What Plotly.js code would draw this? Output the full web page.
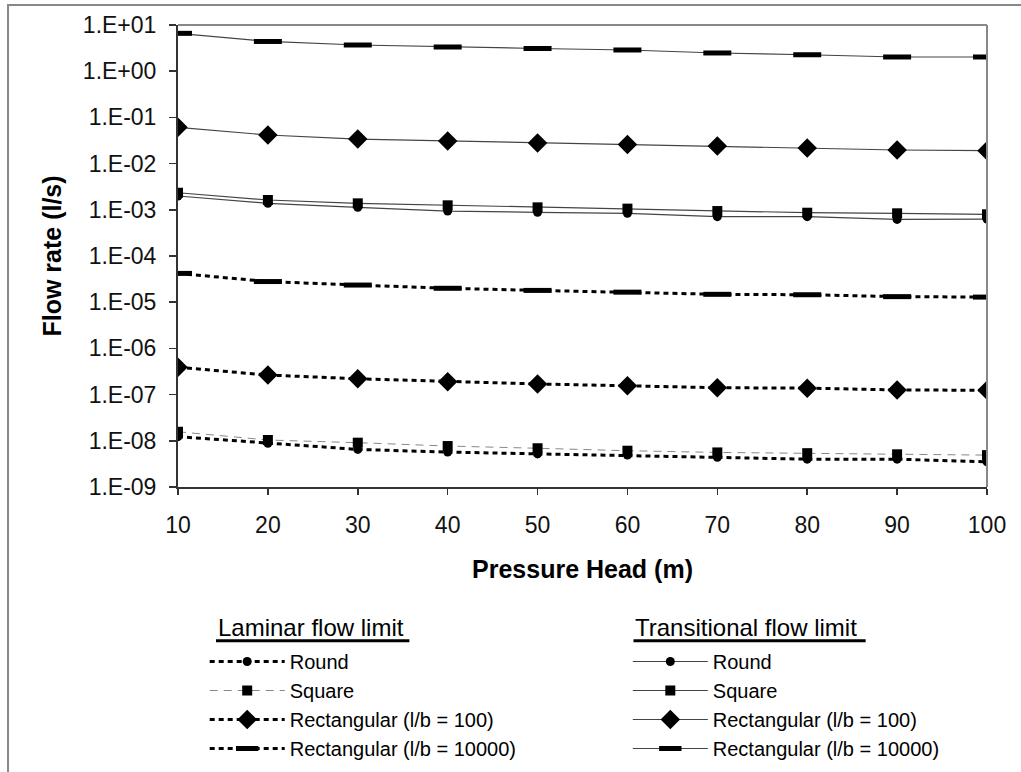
<!DOCTYPE html>
<html>
<head>
<meta charset="utf-8">
<script src="https://cdn.plot.ly/plotly-3.0.1.min.js"></script>
<style>
  html, body { margin: 0; padding: 0; background: #fff; }
  #chart { width: 1021px; height: 772px; }
</style>
</head>
<body>
<div id="chart"></div>
<script>
// ---- Data ----
const pressureHead = [10, 20, 30, 40, 50, 60, 70, 80, 90, 100];

const laminarRound      = [1.23e-8, 8.8e-9, 6.5e-9, 5.7e-9, 5.2e-9, 4.9e-9, 4.4e-9, 4.0e-9, 4.0e-9, 3.5e-9];
const laminarSquare     = [1.57e-8, 1.04e-8, 9.1e-9, 7.7e-9, 6.9e-9, 6.1e-9, 5.6e-9, 5.4e-9, 5.1e-9, 4.9e-9];
const laminarRect100    = [3.9e-7, 2.65e-7, 2.2e-7, 1.9e-7, 1.7e-7, 1.55e-7, 1.41e-7, 1.38e-7, 1.26e-7, 1.24e-7];
const laminarRect10000  = [4.2e-5, 2.8e-5, 2.35e-5, 2.0e-5, 1.8e-5, 1.65e-5, 1.48e-5, 1.45e-5, 1.32e-5, 1.29e-5];

const transRound        = [1.99e-3, 1.38e-3, 1.13e-3, 9.4e-4, 8.8e-4, 8.4e-4, 7.1e-4, 7.1e-4, 6.2e-4, 6.3e-4];
const transSquare       = [2.34e-3, 1.63e-3, 1.38e-3, 1.25e-3, 1.13e-3, 1.06e-3, 9.4e-4, 8.65e-4, 8.4e-4, 8.0e-4];
const transRect100      = [0.061, 0.0416, 0.034, 0.031, 0.028, 0.026, 0.024, 0.0218, 0.0197, 0.019];
const transRect10000    = [6.6, 4.4, 3.69, 3.34, 3.1, 2.88, 2.48, 2.27, 2.03, 2.03];

const seriesNames = ['Round', 'Square', 'Rectangular (l/b = 100)', 'Rectangular (l/b = 10000)'];
const groupTitles = ['Laminar flow limit', 'Transitional flow limit'];

const yTickValues = [1e-9, 1e-8, 1e-7, 1e-6, 1e-5, 1e-4, 1e-3, 1e-2, 1e-1, 1e0, 1e1];
const yTickLabels = ['1.E-09', '1.E-08', '1.E-07', '1.E-06', '1.E-05', '1.E-04', '1.E-03', '1.E-02', '1.E-01', '1.E+00', '1.E+01'];
const xTickValues = [10, 20, 30, 40, 50, 60, 70, 80, 90, 100];

const xTitle = 'Pressure Head (m)';
const yTitle = 'Flow rate (l/s)';

// ---- Styles ----
const dotLine = {color: '#000', width: 3, dash: '5px,4px'};
const grayDash = {color: '#888', width: 1, dash: '8px,6px'};
const solidLine = {color: '#444', width: 1.2};

const markerCircle = {symbol: 'circle', size: 9, color: '#000'};
const markerSquare = {symbol: 'square', size: 10, color: '#000'};
const markerDiamond = {symbol: 'diamond', size: 15, color: '#000'};
const markerDash = {symbol: 'line-ew', size: 20, color: '#000', line: {color: '#000', width: 5}};

function tr(y, name, line, marker, legend) {
  return {x: pressureHead, y: y, name: name, type: 'scatter', mode: 'lines+markers',
          line: line, marker: marker, legend: legend};
}

const traces = [
  tr(laminarRound, seriesNames[0], dotLine, markerCircle, 'legend'),
  tr(laminarSquare, seriesNames[1], grayDash, markerSquare, 'legend'),
  tr(laminarRect100, seriesNames[2], dotLine, markerDiamond, 'legend'),
  tr(laminarRect10000, seriesNames[3], dotLine, markerDash, 'legend'),
  tr(transRound, seriesNames[0], solidLine, markerCircle, 'legend2'),
  tr(transSquare, seriesNames[1], solidLine, markerSquare, 'legend2'),
  tr(transRect100, seriesNames[2], solidLine, markerDiamond, 'legend2'),
  tr(transRect10000, seriesNames[3], solidLine, markerDash, 'legend2')
];

const FONT = '"Liberation Sans", Arial, sans-serif';
const legendCommon = {
  orientation: 'v', xanchor: 'left', yanchor: 'top',
  font: {family: FONT, size: 20, color: '#000'},
  bgcolor: 'rgba(0,0,0,0)', itemwidth: 75, tracegroupgap: 0,
  traceorder: 'normal'
};

const layout = {
  width: 1021, height: 772,
  margin: {l: 178, r: 34, t: 25, b: 285, autoexpand: false},
  paper_bgcolor: '#fff', plot_bgcolor: '#fff',
  font: {family: FONT, color: '#000'},
  showlegend: true,
  xaxis: {
    type: 'linear', range: [10, 100], tickvals: xTickValues,
    showgrid: false, zeroline: false, automargin: false,
    showline: true, linecolor: '#333', linewidth: 2,
    ticks: 'outside', ticklen: 6, tickwidth: 1.5, tickcolor: '#333',
    ticklabelstandoff: 10,
    tickfont: {family: FONT, size: 23, color: '#111'},
    title: {text: '<b>' + xTitle + '</b>', font: {family: FONT, size: 25, color: '#000'}, standoff: 24}
  },
  yaxis: {
    type: 'log', range: [-9, 1], tickvals: yTickValues, ticktext: yTickLabels,
    showgrid: false, zeroline: false, automargin: false,
    showline: true, linecolor: '#333', linewidth: 2,
    ticks: 'outside', ticklen: 7, tickwidth: 1.5, tickcolor: '#333',
    ticklabelstandoff: 8,
    tickfont: {family: FONT, size: 23, color: '#111'},
    title: {text: '<b>' + yTitle + '</b>', font: {family: FONT, size: 25, color: '#000'}, standoff: 14}
  },
  legend: Object.assign({}, legendCommon, {x: 0.033, y: -0.3355}),
  legend2: Object.assign({}, legendCommon, {x: 0.556, y: -0.3355}),
  annotations: [
    {xref: 'paper', yref: 'paper', x: 0.047, y: -0.305, xanchor: 'left', yanchor: 'middle',
     text: groupTitles[0], showarrow: false, font: {family: FONT, size: 24, color: '#000'}},
    {xref: 'paper', yref: 'paper', x: 0.563, y: -0.305, xanchor: 'left', yanchor: 'middle',
     text: groupTitles[1], showarrow: false, font: {family: FONT, size: 24, color: '#000'}}
  ],
  shapes: [
    // plot frame top & right (gray)
    {type: 'line', xref: 'paper', yref: 'paper', x0: 0, x1: 1, y0: 1, y1: 1, line: {color: '#888', width: 2}},
    {type: 'line', xref: 'paper', yref: 'paper', x0: 1, x1: 1, y0: 0, y1: 1, line: {color: '#888', width: 2}},
    // outer chart border (right and bottom edges lie beyond the canvas, as in the reference)
    {type: 'rect', xref: 'paper', yref: 'paper', x0: -0.2101, x1: 1.1, y0: -0.72, y1: 1.0433,
     line: {color: '#888', width: 2}, fillcolor: 'rgba(0,0,0,0)'},
    // header underlines
    {type: 'line', xref: 'paper', yref: 'paper', x0: 0.047, x1: 0.286, y0: -0.333, y1: -0.333, line: {color: '#000', width: 3}},
    {type: 'line', xref: 'paper', yref: 'paper', x0: 0.563, x1: 0.850, y0: -0.333, y1: -0.333, line: {color: '#000', width: 3}}
  ]
};

Plotly.newPlot('chart', traces, layout, {displayModeBar: false, staticPlot: true});
</script>
</body>
</html>
